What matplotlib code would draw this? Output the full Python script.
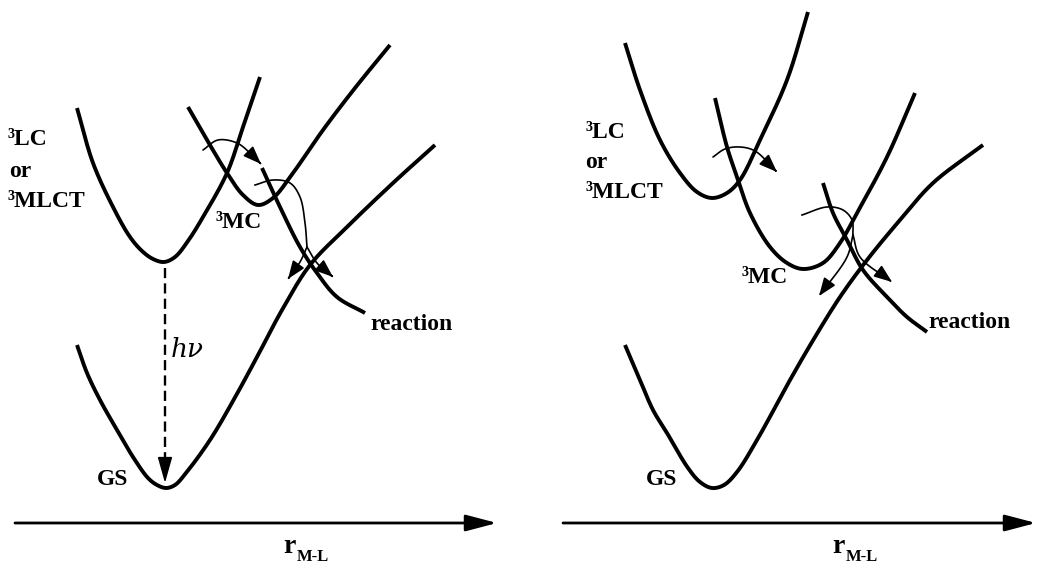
import matplotlib
matplotlib.use("Agg")
import matplotlib.pyplot as plt
import numpy as np
from matplotlib.patches import FancyArrowPatch
from matplotlib.path import Path

# Curves, in pixel units of the 1038x564 image
left_gs = [(77, 345), (87, 373), (100, 400), (117, 430), (133, 457), (148, 478), (157, 485),
           (166, 488), (175, 485), (186, 473), (210, 440), (233, 401), (257, 357), (282, 310),
           (310, 265), (347, 227), (393, 183), (435, 145)]
left_lc = [(77, 108), (93, 163), (113, 207), (130, 237), (142, 251), (153, 259), (164, 262),
           (175, 257), (188, 241), (203, 217), (227, 173), (243, 127), (260, 77)]
left_mc = [(188, 107), (207, 140), (227, 173), (243, 195), (258, 205), (273, 198), (293, 173),
           (323, 130), (355, 88), (390, 45)]
left_rx = [(262, 168), (280, 207), (300, 247), (317, 273), (337, 297), (365, 313)]
left_arrow1 = [(203, 150), (218, 140), (237, 143), (250, 153), (261, 164)]
left_arrow2 = [(255, 185), (273, 180), (290, 183), (300, 197), (305, 223), (307, 247)]
left_split_l = [(307, 247), (300, 262), (288, 279)]
left_split_r = [(307, 247), (317, 263), (333, 277)]

right_gs = [(625, 345), (640, 380), (653, 410), (667, 433), (688, 468), (700, 482), (712, 488),
            (724, 485), (737, 472), (757, 440), (790, 380), (815, 337), (840, 297), (867, 260),
            (900, 220), (933, 183), (983, 145)]
right_lc = [(625, 43), (640, 90), (660, 140), (680, 173), (697, 192), (712, 198), (727, 193),
            (740, 180), (760, 140), (787, 80), (808, 12)]
right_mc = [(715, 98), (727, 147), (737, 177), (750, 213), (770, 247), (787, 263), (803, 269),
            (823, 263), (840, 243), (857, 213), (887, 157), (915, 93)]
right_rx = [(823, 183), (833, 213), (847, 240), (863, 270), (887, 297), (907, 317), (927, 332)]
right_arrow1 = [(713, 157), (725, 149), (740, 147), (755, 151), (777, 172)]
right_arrow2 = [(802, 215), (827, 207), (843, 210), (852, 220), (853, 235)]
right_split_l = [(853, 235), (847, 257), (819, 296)]
right_split_r = [(853, 235), (860, 257), (892, 282)]

axis_arrows = [((15, 523), (497, 523)), ((563, 523), (1036, 523))]

# (text, x, baseline y)
labels = [
    ("\u00b3LC", 8, 145), ("or", 9, 177), ("\u00b3MLCT", 8, 207),
    ("\u00b3MC", 216, 228), ("reaction", 370, 330), ("GS", 97, 485),
    ("\u00b3LC", 585, 138), ("or", 585, 168), ("\u00b3MLCT", 585, 198),
    ("\u00b3MC", 742, 283), ("reaction", 928, 328), ("GS", 646, 485),
]
axis_label_x = [283, 832]


def smooth(pts, n=24, alpha=0.5):
    # centripetal Catmull-Rom through the traced points
    p = np.asarray(pts, float)
    p = np.vstack([2 * p[0] - p[1], p, 2 * p[-1] - p[-2]])
    out = []
    for i in range(1, len(p) - 2):
        p0, p1, p2, p3 = p[i - 1], p[i], p[i + 1], p[i + 2]
        t0 = 0.0
        t1 = t0 + np.linalg.norm(p1 - p0) ** alpha
        t2 = t1 + np.linalg.norm(p2 - p1) ** alpha
        t3 = t2 + np.linalg.norm(p3 - p2) ** alpha
        t = np.linspace(t1, t2, n, endpoint=False)[:, None]
        a1 = (t1 - t) / (t1 - t0) * p0 + (t - t0) / (t1 - t0) * p1
        a2 = (t2 - t) / (t2 - t1) * p1 + (t - t1) / (t2 - t1) * p2
        a3 = (t3 - t) / (t3 - t2) * p2 + (t - t2) / (t3 - t2) * p3
        b1 = (t2 - t) / (t2 - t0) * a1 + (t - t0) / (t2 - t0) * a2
        b2 = (t3 - t) / (t3 - t1) * a2 + (t - t1) / (t3 - t1) * a3
        out.append((t2 - t) / (t2 - t1) * b1 + (t - t1) / (t2 - t1) * b2)
    out.append(p[-2][None])
    return np.vstack(out)


def curve(ax, pts, lw=2.8):
    s = smooth(pts)
    ax.plot(s[:, 0], s[:, 1], color="black", lw=lw, solid_capstyle="butt",
            solid_joinstyle="round")


def arrow_path(ax, pts, lw=1.2, hl=1.1, hw=0.42):
    s = smooth(pts)
    arr = FancyArrowPatch(path=Path(s), arrowstyle=f"-|>,head_length={hl},head_width={hw}",
                          mutation_scale=10, lw=lw, color="black", shrinkA=0, shrinkB=0)
    ax.add_patch(arr)


fig = plt.figure(figsize=(10.38, 5.64), dpi=100)
ax = fig.add_axes([0, 0, 1, 1])
ax.set_xlim(0, 1038)
ax.set_ylim(564, 0)
ax.axis("off")

for c in [left_gs, left_lc, left_mc, left_rx, right_gs, right_lc, right_mc, right_rx]:
    curve(ax, c)

for a in [left_arrow2, right_arrow2]:
    s = smooth(a)
    ax.plot(s[:, 0], s[:, 1], color="black", lw=1.2)
for a in [left_arrow1, left_split_l, left_split_r, right_arrow1, right_split_l, right_split_r]:
    arrow_path(ax, a)

# dashed h-nu arrow
ax.plot([165, 165], [268, 462], color="black", lw=1.7, ls=(0, (4.3, 2.2)))
ax.add_patch(FancyArrowPatch((165, 455), (165, 483), arrowstyle="-|>,head_length=1.6,head_width=0.45",
                             mutation_scale=10, lw=1.2, color="black", shrinkA=0, shrinkB=0))
ax.text(171, 357, "h\u03bd", fontsize=19, family="DejaVu Serif", style="italic",
        ha="left", va="baseline")

for start, end in axis_arrows:
    ax.add_patch(FancyArrowPatch(start, end, arrowstyle="-|>,head_length=1.9,head_width=0.5",
                                 mutation_scale=10, lw=2.0, color="black", shrinkA=0, shrinkB=0))

for txt, x, y in labels:
    ax.text(x, y, txt, fontsize=17, family="Liberation Serif", weight="bold",
            ha="left", va="baseline")

for x in axis_label_x:
    ax.text(x, 553, "r", fontsize=20, family="Liberation Serif", weight="bold",
            ha="left", va="baseline")
    ax.text(x + 14, 561, "M-L", fontsize=12, family="Liberation Serif", weight="bold",
            ha="left", va="baseline")

fig.savefig("out.png", dpi=100)
